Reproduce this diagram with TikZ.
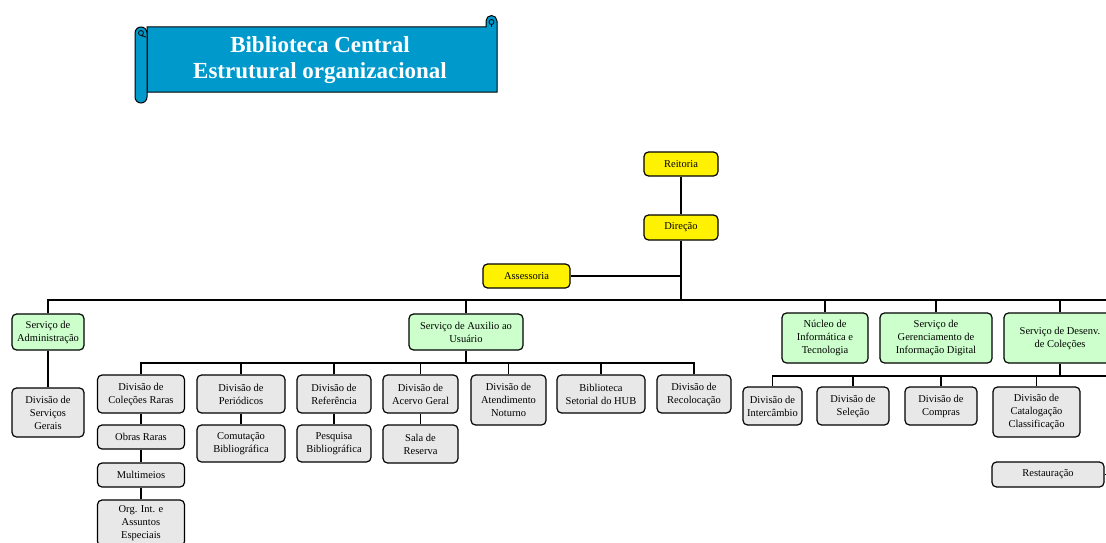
\documentclass[tikz,border=0pt]{standalone}
\usepackage{fontspec}
\setmainfont{Liberation Serif}

\definecolor{scrollblue}{RGB}{0,153,204}
\definecolor{lgreen}{RGB}{204,255,204}
\definecolor{lgrey}{RGB}{232,232,232}

\tikzstyle{unit}=[draw=black,line width=1.2pt,rounded corners=4.5pt,align=center,inner sep=1pt,font=\fontsize{10.5}{13}\selectfont]
\tikzstyle{topunit}=[unit,fill=yellow]
\tikzstyle{service}=[unit,fill=lgreen]
\tikzstyle{division}=[unit,fill=lgrey]
\tikzstyle{link}=[draw=black,line width=1.2pt]
\tikzset{sz/.style 2 args={minimum width=#1pt,minimum height=#2pt}}

\begin{document}
\begin{tikzpicture}[x=1pt,y=-1pt]
  \useasboundingbox (0,0) rectangle (1106,543);
  \clip (0,0) rectangle (1106,543);

  % Title scroll
  \filldraw[fill=scrollblue,draw=black,line width=1pt] (147,27) -- (486,27) -- (486,21)
    arc[start angle=180,end angle=360,radius=5.5] -- (497,92) -- (147,92) -- cycle;
  \draw[line width=0.8pt] (491.5,22) circle (2.5) (491.5,24.5) -- (491.5,27);
  \filldraw[fill=scrollblue,draw=black,line width=1pt] (135,33) -- (135,97)
    arc[start angle=180,end angle=0,radius=6] -- (147,33)
    arc[start angle=0,end angle=-180,radius=6] -- cycle;
  \draw[line width=0.8pt] (141,33) circle (2.5) (141,35.5) -- (146,37);
  \node[text=white,align=center,font=\fontsize{23}{26}\selectfont\bfseries] (title) at (320,60)
    {Biblioteca Central\\Estrutural organizacional};

  % Direction
  \node[topunit,sz={74}{24}] (reit) at (681,164) {Reitoria};
  \node[topunit,sz={74}{25}] (dir) at (681,227.5) {Direção};
  \node[topunit,sz={87}{24}] (asse) at (526.5,276) {Assessoria};

  % Services
  \node[service,sz={72}{36}] (sadm) at (48,332) {Serviço de\\Administração};
  \node[service,sz={114}{36}] (saux) at (466,332) {Serviço de Auxilio ao\\Usuário};
  \node[service,sz={86}{50}] (nuc) at (825,338) {Núcleo de\\Informática e\\Tecnologia};
  \node[service,sz={112}{50}] (sger) at (936,338) {Serviço de\\Gerenciamento de\\Informação Digital};
  \node[service,sz={112}{50}] (sdes) at (1060,338) {Serviço de Desenv.\\de Coleções};

  % Divisions
  \node[division,sz={72}{49}] (dsg) at (48,412.5) {Divisão de\\Serviços\\Gerais};
  \node[division,sz={87}{38}] (dcr) at (141,394) {Divisão de\\Coleções Raras};
  \node[division,sz={88}{38}] (dper) at (241,394) {Divisão de\\Periódicos};
  \node[division,sz={74}{38}] (dref) at (334,394) {Divisão de\\Referência};
  \node[division,sz={75}{38}] (dag) at (420.5,394) {Divisão de\\Acervo Geral};
  \node[division,sz={75}{50}] (dan) at (508.5,400) {Divisão de\\Atendimento\\Noturno};
  \node[division,sz={88}{38}] (bhub) at (601,394) {Biblioteca\\Setorial do HUB};
  \node[division,sz={74}{38}] (drec) at (694,394) {Divisão de\\Recolocação};

  \node[division,sz={87}{24}] (obr) at (141,437) {Obras Raras};
  \node[division,sz={87}{24}] (mul) at (141,475) {Multimeios};
  \node[division,sz={87}{46}] (org) at (141,523) {Org. Int. e\\Assuntos\\Especiais};
  \node[division,sz={88}{37}] (com) at (241,443.5) {Comutação\\Bibliográfica};
  \node[division,sz={74}{37}] (pes) at (334,443.5) {Pesquisa\\Bibliográfica};
  \node[division,sz={75}{38}] (sala) at (420.5,444) {Sala de\\Reserva};

  \node[division,sz={59}{38}] (dint) at (772.5,406) {Divisão de\\Intercâmbio};
  \node[division,sz={72}{38}] (dsel) at (853,406) {Divisão de\\Seleção};
  \node[division,sz={72}{38}] (dcom) at (941,406) {Divisão de\\Compras};
  \node[division,sz={87}{50}] (dcat) at (1036.5,412) {Divisão de\\Catalogação\\Classificação};
  \node[division,sz={112}{25}] (rest) at (1048,474.5) {Restauração};

  % Buses
  \coordinate (topj) at (681,300);
  \coordinate (rb0) at (1106,300);
  \coordinate (auxj) at (466,363);
  \coordinate (rb1) at (1106,376);

  \draw[link] (reit) -- (dir);
  \draw[link] (dir.south) -- (topj);
  \draw[link] (asse.east) -- (asse.east -| dir);
  \draw[link] (sadm.north) |- (rb0);
  \foreach \n in {saux,nuc,sger,sdes}
    \draw[link] (\n.north) -- (\n.north |- rb0);

  \draw[link] (sadm) -- (dsg);
  \draw[link] (saux.south) -- (auxj);
  \draw[link] (dcr.north) |- (auxj) -| (drec.north);
  \foreach \n in {dper,dref,dag,dan,bhub}
    \draw[link] (\n.north) -- (\n.north |- auxj);

  \draw[link] (dcr) -- (obr);
  \draw[link] (obr) -- (mul);
  \draw[link] (mul) -- (org);
  \draw[link] (dper) -- (com);
  \draw[link] (dref) -- (pes);
  \draw[link] (dag) -- (sala);

  \draw[link] (sdes.south) -- (sdes.south |- rb1);
  \draw[link] (dint.north) |- (rb1);
  \foreach \n in {dsel,dcom,dcat}
    \draw[link] (\n.north) -- (\n.north |- rb1);
  \draw[link] (rest.east) -- (rest.east -| rb1);
\end{tikzpicture}
\end{document}
